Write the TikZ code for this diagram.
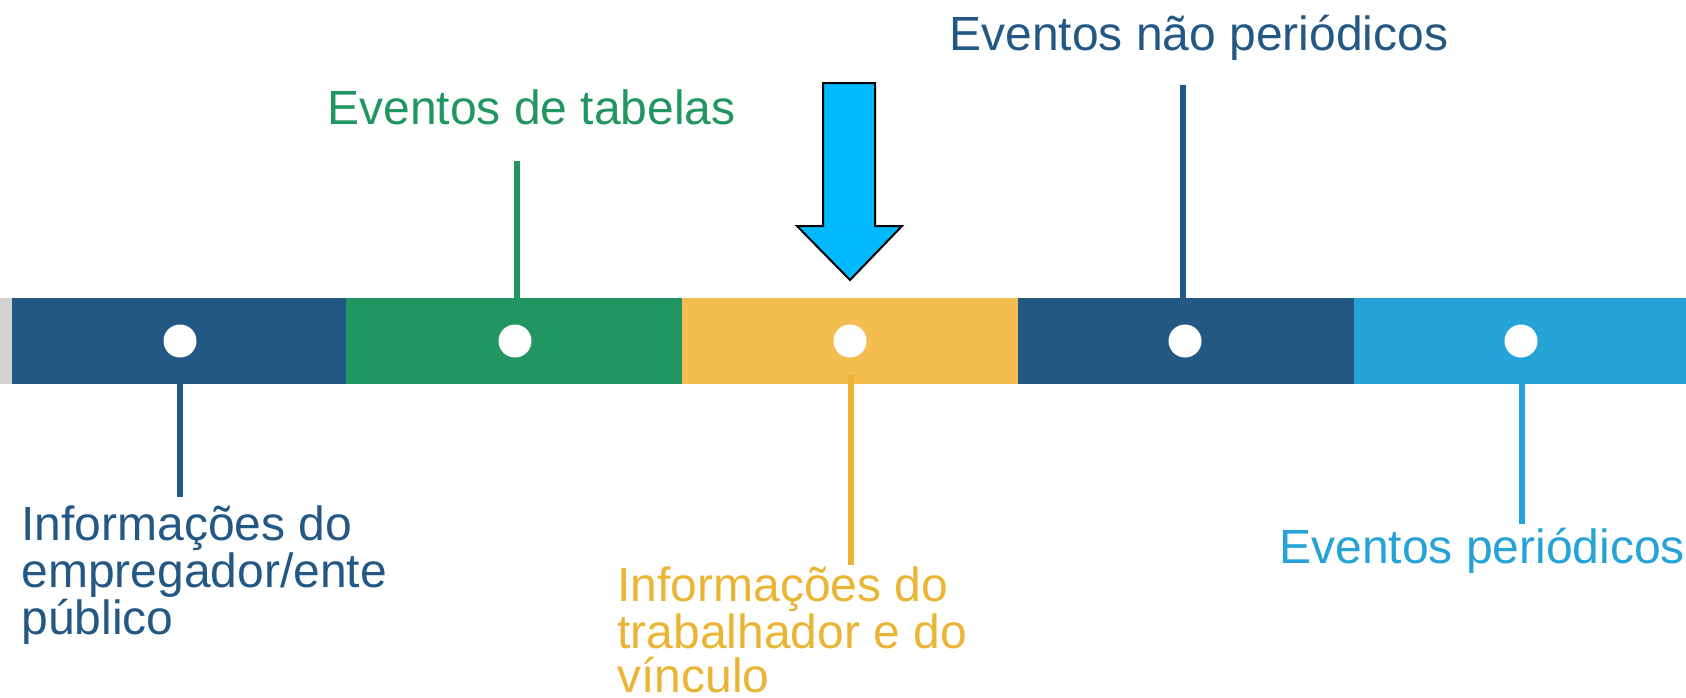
\documentclass[tikz,border=0pt]{standalone}
\usepackage{fontspec}
\setmainfont{Liberation Sans}
\definecolor{azulesc}{RGB}{36,88,132}
\definecolor{verde}{RGB}{34,150,98}
\definecolor{amarelo}{RGB}{243,189,80}
\definecolor{ouro}{RGB}{234,181,52}
\definecolor{azulcl}{RGB}{37,163,215}
\definecolor{seta}{RGB}{0,185,255}
\tikzset{
  ponto/.style={circle,fill=white,inner sep=0pt,minimum size=16.5pt},
  haste/.style={line width=3pt},
  rotulo/.style={inner sep=0pt,align=left,font=\fontsize{24}{22}\selectfont}
}
\begin{document}
\begin{tikzpicture}[x=0.5pt,y=-0.5pt]
	\useasboundingbox (0,0) rectangle (1686,697);
	% barra
	\fill[gray!35] (0,298) rectangle (12,384);
	\fill[azulesc] (12,298) rectangle (346,384);
	\fill[verde] (346,298) rectangle (682,384);
	\fill[amarelo] (682,298) rectangle (1018,384);
	\fill[azulesc] (1018,298) rectangle (1354,384);
	\fill[azulcl] (1354,298) rectangle (1686,384);
	% hastes
	\coordinate (a1) at (180,360); \coordinate (b1) at (180,497);
	\coordinate (a2) at (517,161); \coordinate (b2) at (517,317);
	\coordinate (a3) at (851,375); \coordinate (b3) at (851,565);
	\coordinate (a4) at (1183,85); \coordinate (b4) at (1183,310);
	\coordinate (a5) at (1522,367); \coordinate (b5) at (1522,524);
	\draw[haste,azulesc] (a1)--(b1);
	\draw[haste,verde] (a2)--(b2);
	\draw[haste,ouro] (a3)--(b3);
	\draw[haste,azulesc] (a4)--(b4);
	\draw[haste,azulcl] (a5)--(b5);
	% pontos
	\node[ponto] (p1) at (180,341) {};
	\node[ponto] (p2) at (515,341) {};
	\node[ponto] (p3) at (850,341) {};
	\node[ponto] (p4) at (1185,341) {};
	\node[ponto] (p5) at (1521,341) {};
	% seta
	\draw[fill=seta,line width=1pt,line join=miter] (823,83)--(875,83)--(875,226)--(902,226)--(850,280)--(797,226)--(823,226)--cycle;
	% textos
	\node[rotulo,anchor=base west,text=azulesc] (t4) at (949,50) {Eventos não periódicos};
	\node[rotulo,anchor=base west,text=verde] (t2) at (327,124) {Eventos de tabelas};
	\node[rotulo,anchor=base west,text=azulcl] (t5) at (1279,563) {Eventos periódicos};
	\node[rotulo,anchor=north west,text=azulesc] (t1) at (21,505) {Informações do\\empregador/ente\\público};
	\node[rotulo,anchor=north west,text=ouro] (t3) at (617,566) {Informações do\\trabalhador e do\\vínculo};
\end{tikzpicture}
\end{document}
